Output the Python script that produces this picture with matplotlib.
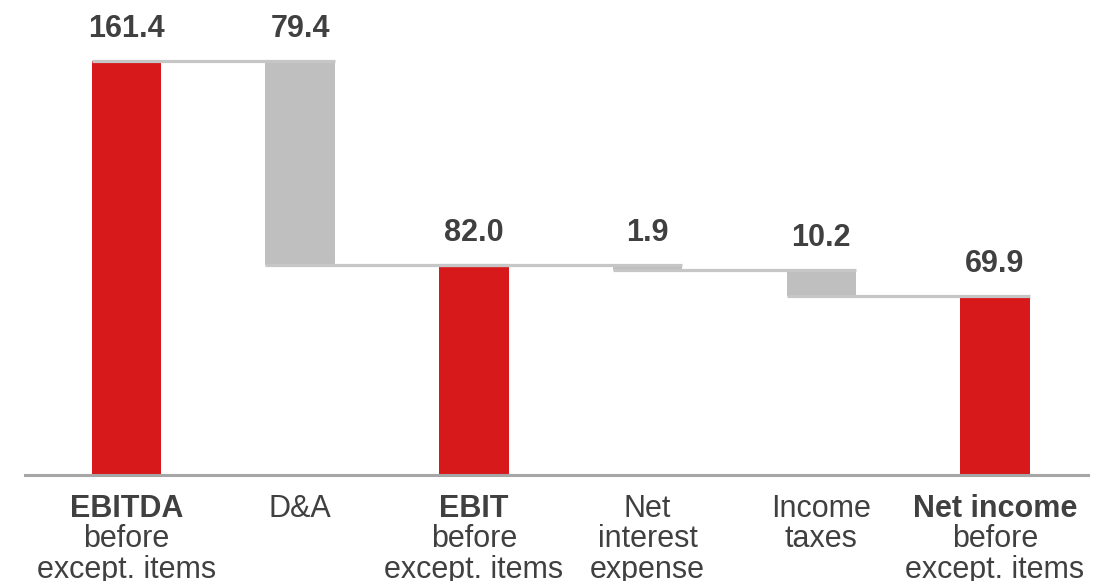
import matplotlib
matplotlib.use("Agg")
from matplotlib import pyplot as plt
from matplotlib.transforms import offset_copy, blended_transform_factory

plt.rcParams['font.family'] = ['Liberation Sans', 'DejaVu Sans']

# waterfall steps: totals are drawn from zero, deltas float off the running total
bold_names = ["EBITDA", "", "EBIT", "", "", "Net income"]
plain_names = [["before", "except. items"], ["D&A"], ["before", "except. items"],
               ["Net", "interest", "expense"], ["Income", "taxes"],
               ["before", "except. items"]]
amounts = [161.4, -79.4, 82.0, -1.9, -10.2, 69.9]
is_total = [True, False, True, False, False, True]

red = "#d7191c"
grey = "#bfbfbf"
line_grey = "#c6c6c6"
text_col = "#404040"
width = 0.4

fig = plt.figure(figsize=(11.17, 5.81), dpi=100)
ax = fig.add_axes([25/1117, 106/581, 1063/1117, 475/581])

running = 0.0
levels = []
xs = list(range(len(amounts)))
for i, v in enumerate(amounts):
    if is_total[i]:
        bottom, top = 0, v
        running = v
        ax.bar(i, v, width, color=red, zorder=2)
    else:
        top = running
        running = running + v
        bottom = running
        ax.bar(i, top - bottom, width, bottom=bottom, color=grey, zorder=2)
    levels.append(running)
    ax.text(i, top, f"{abs(v):.1f}", ha="center", va="baseline", fontsize=22,
            fontweight="bold", color=text_col,
            transform=offset_copy(ax.transData, fig=fig, y=17, units="points"))

# connector lines between neighbouring bars
for i in range(len(amounts) - 1):
    ax.plot([i - width/2, i + 1 + width/2], [levels[i], levels[i]],
            color=line_grey, lw=2.3, solid_capstyle="butt", zorder=3)

ax.set_xlim(-0.584, 5.535)
ax.set_ylim(0, 185.2)
for side in ["top", "right", "left"]:
    ax.spines[side].set_visible(False)
ax.spines["bottom"].set_color("#a6a6a6")
ax.spines["bottom"].set_linewidth(2.2)
ax.set_xticks([])
ax.set_yticks([])

# category labels, bold first line where the bar is a total
trans = blended_transform_factory(ax.transData, ax.transAxes)
for i in xs:
    rows = ([(bold_names[i], "bold")] if bold_names[i] else []) + \
           [(t, "normal") for t in plain_names[i]]
    for k, (t, w) in enumerate(rows):
        ax.text(i, 0, t, ha="center", va="top", fontsize=22, fontweight=w,
                color=text_col, clip_on=False,
                transform=offset_copy(trans, fig=fig, y=-(13.5 + 21.9*k), units="points"))

fig.savefig("out.png", dpi=100)
